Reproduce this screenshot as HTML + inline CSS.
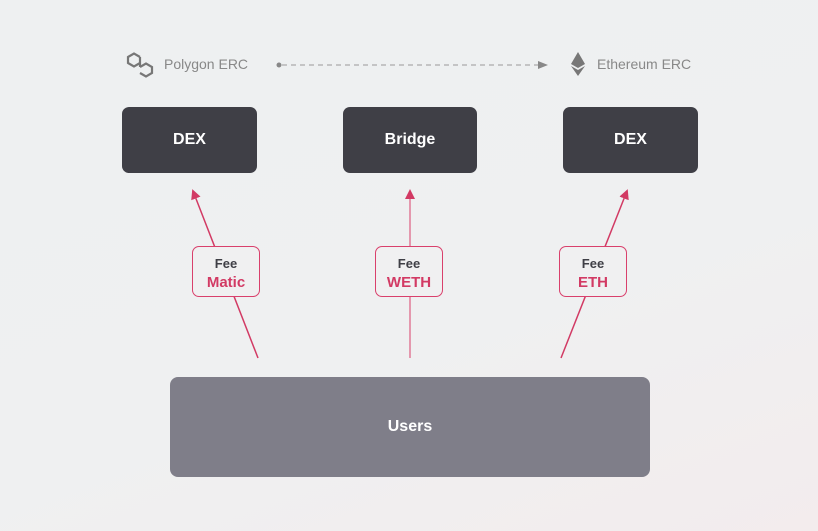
<!DOCTYPE html>
<html><head><style>
body{margin:0;width:818px;height:531px;overflow:hidden;background:linear-gradient(160deg,#eef0f1 0%,#eff0f1 60%,#f3eced 100%);font-family:"Liberation Sans",sans-serif;position:relative}
.b{position:absolute;background:#3f3f46;border-radius:7px;color:#fff;font-weight:bold;font-size:16px;display:flex;align-items:center;justify-content:center}
.f{position:absolute;width:66px;height:49px;border:1.5px solid #d9406c;border-radius:7px;background:#f0f0f1;text-align:center;font-weight:bold}
.f .a{color:#3f3f46;font-size:13px;margin-top:9px}
.f .c{color:#d23a64;font-size:15px;margin-top:3px}
.t{position:absolute;color:#888;font-size:14px}
</style></head><body>
<svg width="818" height="531" style="position:absolute;left:0;top:0">
<defs><marker id="m" markerWidth="10" markerHeight="10" refX="8" refY="5" orient="auto" markerUnits="userSpaceOnUse"><path d="M0,0 L10,5 L0,10 z" fill="#d23a64"/></marker>
<marker id="g" markerWidth="10" markerHeight="8" refX="8" refY="4" orient="auto" markerUnits="userSpaceOnUse"><path d="M0,0 L10,4 L0,8 z" fill="#888"/></marker></defs>
<line x1="258" y1="358" x2="193" y2="191" stroke="#d23a64" stroke-width="1.5" marker-end="url(#m)"/>
<line x1="410" y1="358" x2="410" y2="191" stroke="#e07a98" stroke-width="1.5" marker-end="url(#m)"/>
<line x1="561" y1="358" x2="627" y2="191" stroke="#d23a64" stroke-width="1.5" marker-end="url(#m)"/>
<circle cx="279" cy="65" r="2.5" fill="#888"/>
<line x1="282" y1="65" x2="546" y2="65" stroke="#999" stroke-width="1" stroke-dasharray="5,4" marker-end="url(#g)"/>
<g fill="none" stroke="#777" stroke-width="2.2"><path d="M140,57 l-6,-3.5 l-6,3.5 v6 l6,3.5 l6,-3.5"/><path d="M140,67 l6,-3.5 l6,3.5 v6 l-6,3.5 l-6,-3.5"/><path d="M140,57 v10"/></g>
<path d="M578,52 l-7,12 l7,4 l7,-4z" fill="#777"/><path d="M578,70 l-7,-4 l7,10 l7,-10z" fill="#777"/>
</svg>
<div class="t" style="left:164px;top:56px">Polygon ERC</div>
<div class="t" style="left:597px;top:56px">Ethereum ERC</div>
<div class="b" style="left:122px;top:107px;width:135px;height:66px">DEX</div>
<div class="b" style="left:343px;top:107px;width:134px;height:66px">Bridge</div>
<div class="b" style="left:563px;top:107px;width:135px;height:66px">DEX</div>
<div class="f" style="left:192px;top:246px"><div class="a">Fee</div><div class="c">Matic</div></div>
<div class="f" style="left:375px;top:246px"><div class="a">Fee</div><div class="c">WETH</div></div>
<div class="f" style="left:559px;top:246px"><div class="a">Fee</div><div class="c">ETH</div></div>
<div class="b" style="left:170px;top:377px;width:480px;height:100px;background:#7f7e89;border-radius:8px">Users</div>
</body></html>
